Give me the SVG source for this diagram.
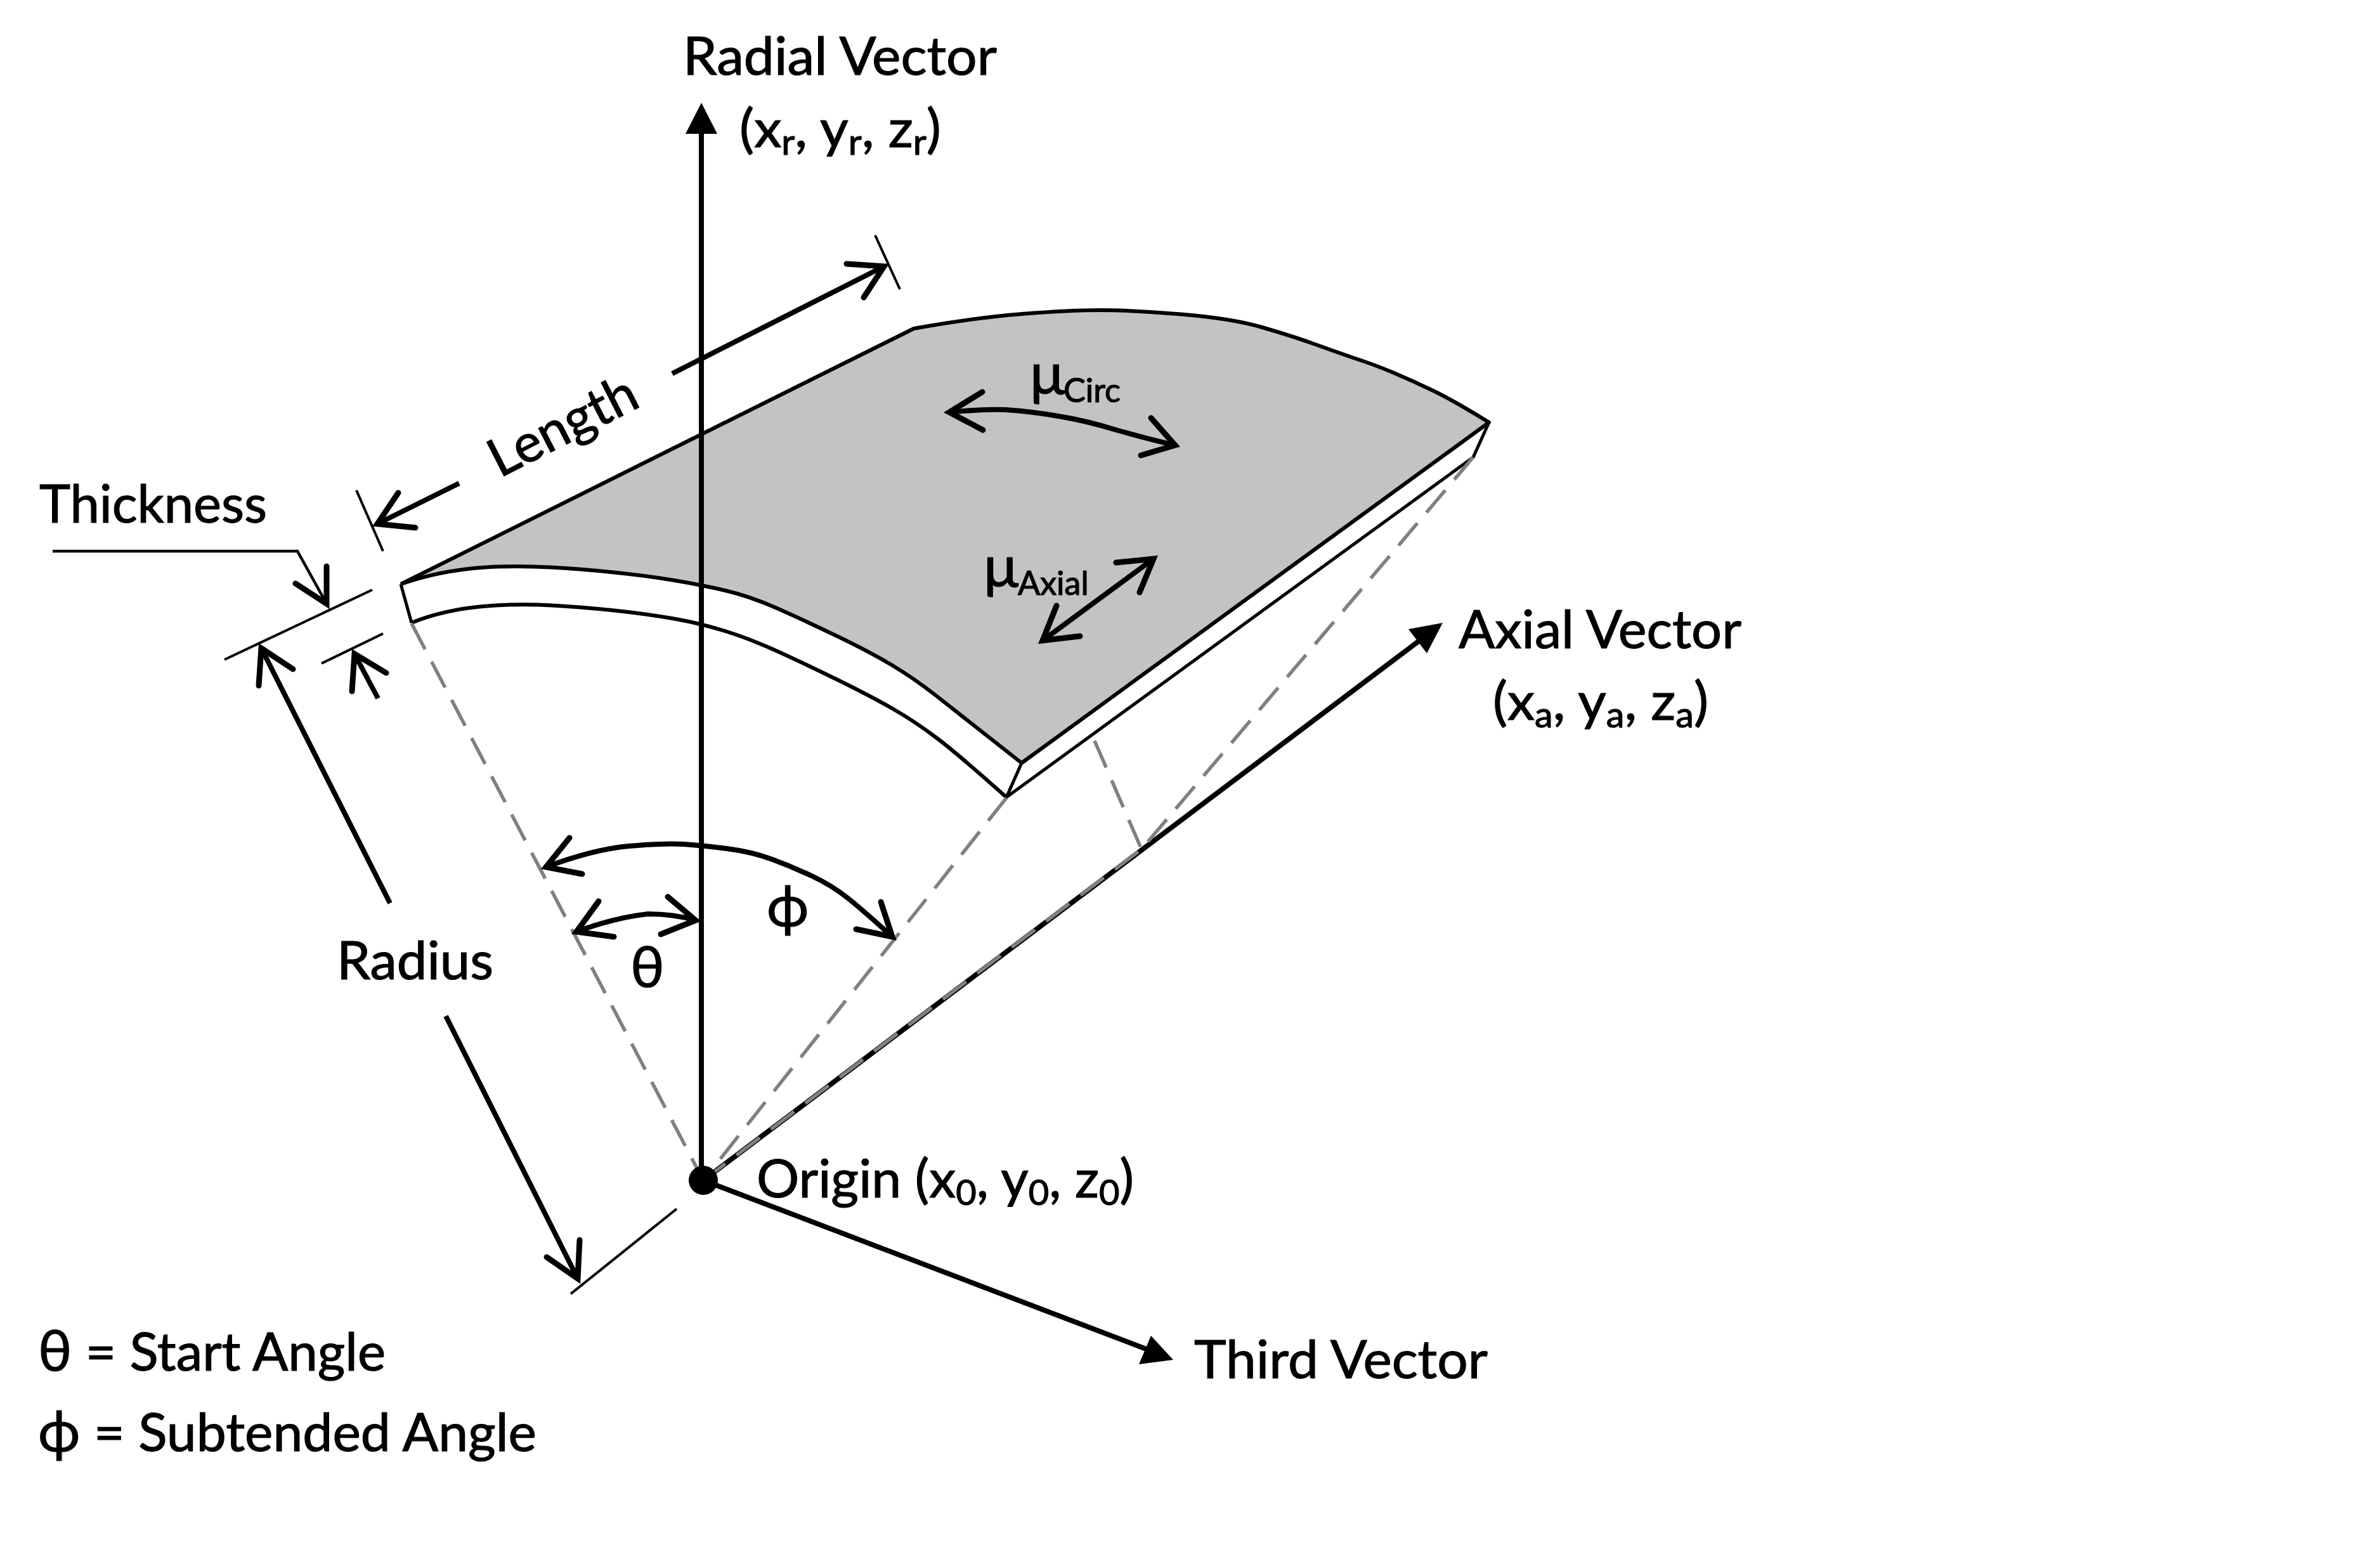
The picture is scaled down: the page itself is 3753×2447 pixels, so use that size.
<svg xmlns="http://www.w3.org/2000/svg" width="3753" height="2447" viewBox="0 0 3753 2447">
<style>
text{font-family:Lato,"Open Sans","DejaVu Sans",sans-serif;font-size:84px;fill:#000;stroke:#000;stroke-width:1.2}
.sub{font-size:56px}
.mus{font-size:52px}
.mu{font-size:92px}
.gr{font-size:90px}
.e{fill:none;stroke:#000;stroke-width:6;stroke-linejoin:round}
.a{fill:none;stroke:#000;stroke-width:8;stroke-linecap:butt}
.h{fill:none;stroke:#000;stroke-width:9;stroke-linecap:round;stroke-linejoin:miter;stroke-miterlimit:10}
.t{fill:none;stroke:#000;stroke-width:4}
.l{fill:none;stroke:#000;stroke-width:4.5}
.d{fill:none;stroke:#808080;stroke-width:5.5;stroke-dasharray:46 22}
.v{fill:none;stroke:#000;stroke-width:8}
</style>
<rect width="3753" height="2447" fill="#fff"/>
<g id="plate">
<path d="M632 921L1441 518Q1536 501 1611.5 495Q1687 489 1735 489Q1783 489 1862.5 495.5Q1942 502 1990 516Q2038 530 2070 541.5Q2102 553 2133.5 564Q2165 574 2197 587.5Q2229 601 2261 616.5Q2293 632 2348 666L1611 1203Q1512 1125 1477 1097.5Q1442 1070 1407 1049Q1372 1028 1319 1002.5Q1266 977 1224 958.5Q1182 940 1143.5 931Q1105 922 1063 915Q1021 908 968.5 902.5Q916 897 870 894.5Q824 892 782 893.5Q700 897 632 921Z" fill="#c3c3c3"/>
<path class="e" d="M632 921L1441 518Q1536 501 1611.5 495Q1687 489 1735 489Q1783 489 1862.5 495.5Q1942 502 1990 516Q2038 530 2070 541.5Q2102 553 2133.5 564Q2165 574 2197 587.5Q2229 601 2261 616.5Q2293 632 2348 666L1611 1203"/>
<path class="e" d="M632 921Q700 897 782 893.5Q824 892 870 894.5Q916 897 968.5 902.5Q1021 908 1063 915Q1105 922 1143.5 931Q1182 940 1224 958.5Q1266 977 1319 1002.5Q1372 1028 1407 1049Q1442 1070 1477 1097.5Q1512 1125 1611 1203"/>
<path class="e" d="M649 982Q705 959 782 954.5Q824 952 870 954.5Q916 957 968.5 962.5Q1021 968 1063 975.5Q1105 983 1143.5 995Q1182 1007 1224 1026Q1266 1045 1319 1071Q1372 1097 1407 1117Q1442 1137 1477 1163.5Q1512 1190 1587 1257"/>
<path class="e" style="stroke-width:5" d="M632 921L649 982M1611 1203L1587 1257L2323 721L2348 666"/>
</g>
<g id="guides">
<path class="d" d="M649 983L1109 1861"/>
<path class="d" d="M1587 1258L1109 1861"/>
<path class="d" d="M1726 1168L1800 1339"/>
</g>
<g id="connectors">
<path class="v" d="M1106 1861V205"/><polygon points="1106,162 1081,211 1131,211"/>
<path class="v" d="M1109 1861L2245 1005"/><polygon points="2275,982 2221,992 2250,1030"/>
<path class="d" d="M2323 721L1800 1339L1109 1861"/>
<path class="v" d="M1109 1861L1810 2128"/><polygon points="1850,2144 1815,2106 1796,2151"/>

<path class="t" d="M1380 371L1419 456M562 773L604 869M354 1040L587 930M507 1046L604 999M1067 1906L900 2040"/>

<path class="a" d="M1060 589L1394 420"/><path class="h" d="M1335 416L1394 420L1362 469"/>
<path class="a" d="M724 762L595 826"/><path class="h" d="M628 777L595 826L655 832"/>

<path class="l" d="M83 869H469L515 952"/><path class="h" d="M466 920L515 952L515 893"/>
<path class="a" d="M559 1031L596 1101"/><path class="h" d="M609 1061L559 1031L555 1090"/>
<path class="a" d="M412 1022L615 1424"/><path class="h" d="M462 1055L412 1022L408 1081"/>
<path class="a" d="M703 1602L911 2016"/><path class="h" d="M862 1982L911 2016L914 1955"/>

<path class="a" d="M861 1367Q936 1339 992 1334Q1048 1329 1078 1331Q1108 1333 1146.5 1338Q1185 1343 1216.5 1354.5Q1248 1366 1280 1381Q1312 1396 1337.5 1416.5Q1363 1437 1407 1477"/>
<path class="h" d="M898 1321L861 1367L918 1378"/><path class="h" d="M1389 1422L1407 1477L1350 1465"/>
<path class="a" d="M909 1469Q968 1447 1022 1441Q1062 1441 1097 1451"/>
<path class="h" d="M944 1421L909 1469L968 1477"/><path class="h" d="M1053 1414L1097 1451L1042 1473"/>

<path class="a" d="M1497 650Q1545 645 1585 646Q1630 649 1674 657Q1715 664 1757 677Q1810 692 1853 702"/>
<path class="h" d="M1549 618L1497 650L1550 678"/><path class="h" d="M1815 659L1853 702L1799 718"/>
<path class="a" d="M1644 1010L1819 881"/>
<path class="h" d="M1666 955L1644 1010L1703 1003"/><path class="h" d="M1760 887L1819 881L1797 934"/>
</g>
<g id="origin"><circle cx="1109" cy="1861" r="23"/><text x="1193" y="1888" textLength="595" lengthAdjust="spacingAndGlyphs">Origin (x<tspan class="sub" dy="12">0</tspan><tspan dy="-12">, y</tspan><tspan class="sub" dy="12">0</tspan><tspan dy="-12">, z</tspan><tspan class="sub" dy="12">0</tspan><tspan dy="-12">)</tspan></text></g>
<g id="labels">
<text x="1077" y="118" textLength="495" lengthAdjust="spacingAndGlyphs">Radial Vector</text>
<text x="1166" y="232" textLength="318" lengthAdjust="spacingAndGlyphs">(x<tspan class="sub" dy="12">r</tspan><tspan dy="-12">, y</tspan><tspan class="sub" dy="12">r</tspan><tspan dy="-12">, z</tspan><tspan class="sub" dy="12">r</tspan><tspan dy="-12">)</tspan></text>
<text x="2300" y="1022" textLength="446" lengthAdjust="spacingAndGlyphs">Axial Vector</text>
<text x="2354" y="1135" textLength="340" lengthAdjust="spacingAndGlyphs">(x<tspan class="sub" dy="12">a</tspan><tspan dy="-12">, y</tspan><tspan class="sub" dy="12">a</tspan><tspan dy="-12">, z</tspan><tspan class="sub" dy="12">a</tspan><tspan dy="-12">)</tspan></text>
<text x="1883" y="2173" textLength="463" lengthAdjust="spacingAndGlyphs">Third Vector</text>
<text x="62" y="824" textLength="359" lengthAdjust="spacingAndGlyphs">Thickness</text>
<text x="531" y="1544" textLength="247" lengthAdjust="spacingAndGlyphs">Radius</text>
<text transform="translate(788 754) rotate(-27)" textLength="252" lengthAdjust="spacingAndGlyphs">Length</text>
<text x="60" y="2161" textLength="548" lengthAdjust="spacingAndGlyphs"><tspan class="gr">θ</tspan> = Start Angle</text>
<text x="60" y="2288" textLength="786" lengthAdjust="spacingAndGlyphs"><tspan class="gr">ϕ</tspan> = Subtended Angle</text>
<text class="gr" x="994" y="1556">θ</text>
<text class="gr" x="1209" y="1460">ϕ</text>
<text class="mu" x="1624" y="621">μ<tspan class="mus" x="1677" y="634">Circ</tspan></text>
<text class="mu" x="1551" y="925">μ<tspan class="mus" x="1605" y="938">Axial</tspan></text>
</g>
</svg>
